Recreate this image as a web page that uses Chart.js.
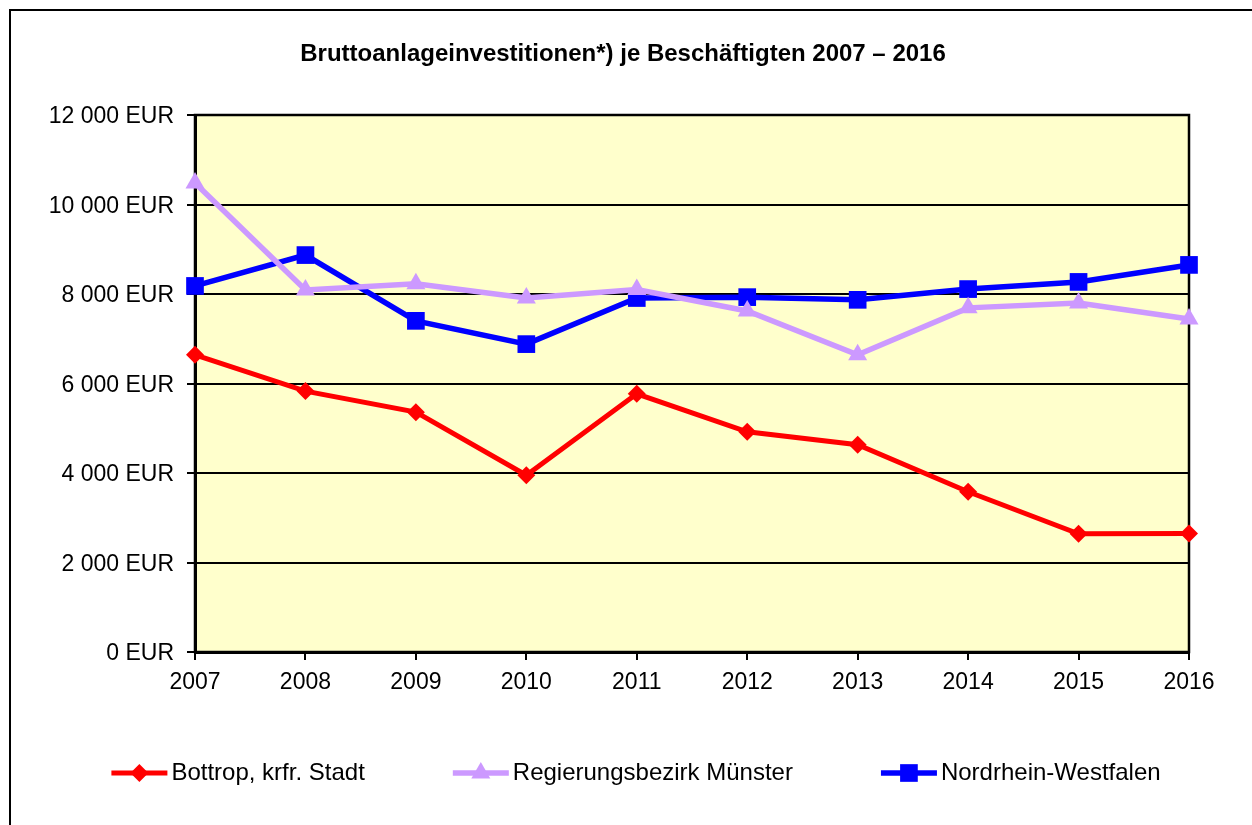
<!DOCTYPE html>
<html>
<head>
<meta charset="utf-8">
<script src="https://cdn.jsdelivr.net/npm/chart.js@4"></script>
<style>
  html, body { margin: 0; padding: 0; background: #fff; overflow: hidden; }
  canvas { display: block; }
</style>
</head>
<body>
<canvas id="line-chart" width="1252" height="825"></canvas>
<script>
// Bruttoanlageinvestitionen je Beschäftigten 2007 - 2016

var chartTitle = 'Bruttoanlageinvestitionen*) je Beschäftigten 2007 – 2016';
var years = ['2007', '2008', '2009', '2010', '2011', '2012', '2013', '2014', '2015', '2016'];
var bottrop = [6640, 5830, 5360, 3950, 5770, 4920, 4630, 3580, 2640, 2650];
var muenster = [10480, 8090, 8230, 7910, 8100, 7620, 6640, 7690, 7800, 7440];
var nrw = [8180, 8870, 7400, 6880, 7910, 7930, 7870, 8110, 8270, 8650];
var yTicks = [0, 2000, 4000, 6000, 8000, 10000, 12000];

var FONT = 'Liberation Sans, Arial, sans-serif';

function eur(v) {
	return String(v).replace(/\B(?=(\d{3})+(?!\d))/g, ' ') + ' EUR';
}

// frame, plot background, plot border and title (title sits off-centre like in excel)
var frame = {
	id: 'frame',
	beforeDraw: function(chart) {
		var ctx = chart.ctx, a = chart.chartArea;
		ctx.save();
		ctx.fillStyle = '#FFFFCC';
		ctx.fillRect(a.left, a.top, a.right - a.left, a.bottom - a.top);
		ctx.strokeStyle = '#000';
		ctx.lineWidth = 2;
		ctx.strokeRect(10, 10, chart.width + 20, chart.height + 20);
		ctx.fillStyle = '#000';
		ctx.font = 'bold 24px ' + FONT;
		ctx.textAlign = 'center';
		ctx.textBaseline = 'middle';
		ctx.fillText(chartTitle, 623, 54);
		ctx.restore();
	},
	beforeDatasetsDraw: function(chart) {
		var ctx = chart.ctx, a = chart.chartArea;
		ctx.save();
		ctx.strokeStyle = '#000';
		ctx.lineWidth = 2.5;
		ctx.strokeRect(a.left, a.top, a.right - a.left, a.bottom - a.top);
		ctx.restore();
	}
};

// excel style legend: line with marker, then label
var lineLegend = {
	id: 'lineLegend',
	afterDraw: function(chart) {
		var ctx = chart.ctx;
		var y = 773, lineLen = 56, gap = 88, textGap = 4, center = 636;
		ctx.save();
		ctx.font = '24px ' + FONT;
		var sets = chart.data.datasets;
		var widths = sets.map(function(ds) { return lineLen + textGap + ctx.measureText(ds.label).width; });
		var total = widths.reduce(function(s, w) { return s + w; }, 0) + gap * (sets.length - 1);
		var x = center - total / 2;
		sets.forEach(function(ds, i) {
			ctx.strokeStyle = ds.borderColor;
			ctx.lineWidth = ds.borderWidth;
			ctx.beginPath();
			ctx.moveTo(x, y);
			ctx.lineTo(x + lineLen, y);
			ctx.stroke();
			ctx.fillStyle = ds.backgroundColor;
			Chart.helpers.drawPoint(ctx, { pointStyle: ds.pointStyle, radius: ds.pointRadius, borderWidth: 0 }, x + lineLen / 2, y);
			ctx.fillStyle = '#000';
			ctx.textBaseline = 'middle';
			ctx.textAlign = 'left';
			ctx.fillText(ds.label, x + lineLen + textGap, y);
			x += widths[i] + gap;
		});
		ctx.restore();
	}
};

new Chart(document.getElementById('line-chart'), {
	type: 'line',
	data: {
		labels: years,
		datasets: [{
			label: 'Bottrop, krfr. Stadt',
			data: bottrop,
			borderColor: '#FF0000',
			backgroundColor: '#FF0000',
			borderWidth: 5,
			pointStyle: 'rectRot',
			pointRadius: 9,
			pointBorderWidth: 0,
			clip: false
		}, {
			label: 'Regierungsbezirk Münster',
			data: muenster,
			borderColor: '#CC99FF',
			backgroundColor: '#CC99FF',
			borderWidth: 5.5,
			pointStyle: 'triangle',
			pointRadius: 11,
			pointBorderWidth: 0,
			clip: false
		}, {
			label: 'Nordrhein-Westfalen',
			data: nrw,
			borderColor: '#0000FF',
			backgroundColor: '#0000FF',
			borderWidth: 5.5,
			pointStyle: 'rect',
			pointRadius: 12.5,
			pointBorderWidth: 0,
			clip: false
		}]
	},
	options: {
		responsive: false,
		animation: false,
		layout: { padding: { left: 0, right: 63, top: 115, bottom: 0 } },
		plugins: {
			legend: { display: false },
			tooltip: { enabled: false },
			title: { display: false }
		},
		scales: {
			x: {
				offset: false,
				grid: { display: true, drawOnChartArea: false, drawTicks: true, tickLength: 8, color: '#000', lineWidth: 2 },
				border: { color: '#000', width: 3 },
				ticks: { color: '#000', font: { family: FONT, size: 23 }, padding: 9, maxRotation: 0 },
				afterFit: function(scale) { scale.height = 173; }
			},
			y: {
				min: 0,
				max: 12000,
				afterBuildTicks: function(scale) {
					scale.ticks = yTicks.map(function(v) { return { value: v }; });
				},
				grid: { color: '#000', lineWidth: 2, tickLength: 8 },
				border: { color: '#000', width: 3 },
				ticks: {
					color: '#000',
					font: { family: FONT, size: 23 },
					padding: 13,
					labelOffset: 2,
					callback: function(v) { return eur(v); }
				},
				afterFit: function(scale) { scale.width = 195; }
			}
		}
	},
	plugins: [frame, lineLegend]
});
</script>
</body>
</html>
